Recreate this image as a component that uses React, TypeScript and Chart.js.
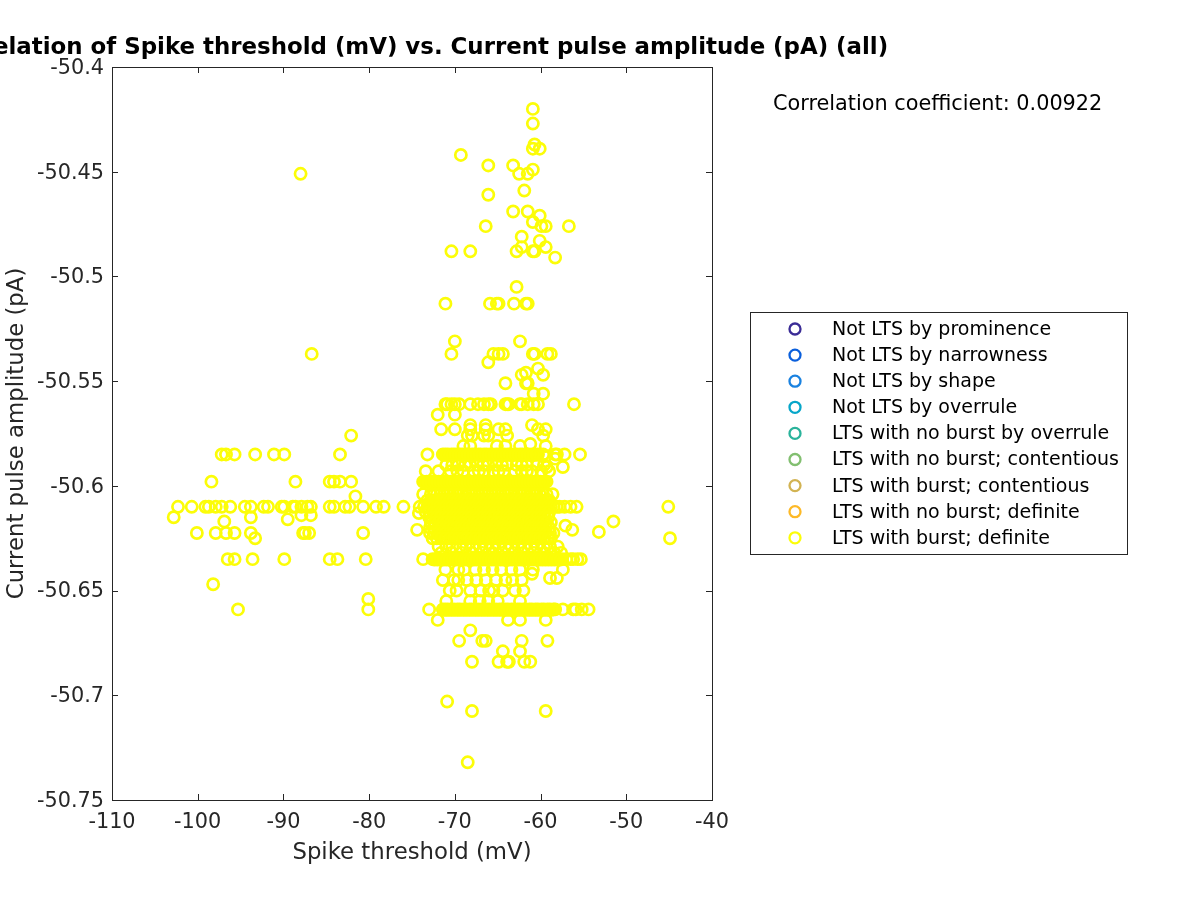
import React, { useEffect, useRef } from "react";
import { Chart, registerables } from "chart.js";

Chart.register(...registerables);

const chartTitle = "Correlation of Spike threshold (mV) vs. Current pulse amplitude (pA) (all)";
const xLabel = "Spike threshold (mV)";
const yLabel = "Current pulse amplitude (pA)";
const corrText = "Correlation coefficient: 0.00922";
const xMin = -110, xMax = -40, xStep = 10;
const yMin = -50.75, yMax = -50.4, yStep = 0.05;

const classNames = [
  "Not LTS by prominence", "Not LTS by narrowness", "Not LTS by shape", "Not LTS by overrule",
  "LTS with no burst by overrule", "LTS with no burst; contentious", "LTS with burst; contentious",
  "LTS with no burst; definite", "LTS with burst; definite",
];
const classColors = ["#3b2c96", "#0a5fdc", "#1a82e0", "#06a6c9", "#2ab39b", "#82bf70", "#d2b352", "#fdb927", "#fcfd08"];

// Scattered points: threshold and amplitude, paired by index
const upperX = [-60.9, -60.9, -60.7, -60.9, -60.1, -69.3, -66.1, -63.2, -60.9, -62.5, -61.5, -61.9, -66.1, -63.2, -61.5, -60.1, -60.9, -59.9, -59.4, -56.7, -66.4, -62.2, -60.1, -59.4, -62.2, -62.8, -60.9, -60.7, -70.4, -68.2, -58.3, -62.8, -88.0, -86.7];
const upperY = [-50.42, -50.427, -50.437, -50.439, -50.439, -50.442, -50.447, -50.447, -50.449, -50.451, -50.451, -50.459, -50.461, -50.469, -50.469, -50.471, -50.474, -50.476, -50.476, -50.476, -50.476, -50.481, -50.483, -50.486, -50.486, -50.488, -50.488, -50.488, -50.488, -50.488, -50.491, -50.505, -50.451, -50.537];
const midX = [-71.1, -65.9, -65.1, -64.9, -63.1, -61.7, -61.5, -70.0, -62.4, -70.4, -65.5, -64.9, -64.4, -60.9, -60.7, -59.2, -58.8, -66.1, -62.2, -61.7, -60.3, -59.7, -64.1, -61.7, -61.5, -60.8, -59.7];
const midY = [-50.513, -50.513, -50.513, -50.513, -50.513, -50.513, -50.513, -50.531, -50.531, -50.537, -50.537, -50.537, -50.537, -50.537, -50.537, -50.537, -50.537, -50.541, -50.547, -50.546, -50.544, -50.547, -50.551, -50.551, -50.551, -50.556, -50.556];
const lowerX = [-72.0, -63.8, -62.4, -59.4, -68.2, -69.5, -66.8, -66.4, -62.2, -59.2, -64.4, -62.4, -68.0, -64.9, -63.9, -63.7, -61.9, -61.2, -70.9, -68.0, -59.4, -68.5, -61.0, -58.9, -58.1, -57.4];
const lowerY = [-50.664, -50.664, -50.664, -50.664, -50.669, -50.674, -50.674, -50.674, -50.674, -50.674, -50.679, -50.679, -50.684, -50.684, -50.684, -50.684, -50.684, -50.684, -50.703, -50.7075, -50.7075, -50.732, -50.642, -50.644, -50.644, -50.64];
const sideX = [-82.1, -81.6, -102.8, -93.8, -87.9, -86.8, -89.5, -96.9, -93.3, -98.2, -80.1, -80.1, -95.3, -51.5, -53.2, -44.9, -74.2, -74.4, -73.4, -73.7, -57.4, -59.3, -58.3, -57.1, -56.3, -61.2];
const sideY = [-50.576, -50.605, -50.615, -50.615, -50.614, -50.614, -50.616, -50.617, -50.625, -50.647, -50.654, -50.659, -50.659, -50.617, -50.622, -50.625, -50.613, -50.621, -50.593, -50.604, -50.591, -50.591, -50.587, -50.619, -50.621, -50.58];

// Rows of repeated amplitude: amplitude, then thresholds on that row
const rowAmps = [-50.561, -50.566, -50.571, -50.573, -50.576, -50.581, -50.585, -50.5852, -50.59, -50.593, -50.598, -50.5982, -50.604, -50.607, -50.61, -50.6125, -50.615, -50.6175, -50.62, -50.6225, -50.625, -50.629, -50.632, -50.635, -50.6352, -50.64, -50.645, -50.65, -50.655, -50.659, -50.6592];
const row561 = [-71.1, -70.9, -70.4, -70.0, -69.5, -68.2, -67.3, -66.6, -66.1, -65.8, -64.1, -63.9, -63.7, -62.4, -62.2, -61.5, -60.8, -60.3, -56.1];
const row566 = [-72.0, -70.0];
const row571 = [-68.2, -66.4, -61.0];
const row573 = [-71.6, -70.0, -68.2, -66.4, -64.9, -64.1, -60.3, -59.4];
const row576 = [-68.5, -68.0, -66.6, -66.1, -63.9, -59.7];
const row581 = [-69.0, -68.2, -65.1, -64.1, -62.4, -59.4];
const row585 = [-97.2, -96.7, -95.7, -93.3, -91.1, -89.9, -83.4, -73.2, -71.4, -71.1, -70.8, -70.4, -70.1, -69.8, -69.4, -69.1, -68.7, -68.4, -68.0, -67.7, -67.3, -67.0, -66.6, -66.3, -65.9, -65.6, -65.2, -64.9, -64.5, -64.2, -63.8, -63.5, -63.1, -62.8, -62.4, -62.1, -61.7, -61.4, -61.0, -60.7, -60.3, -59.7, -58.3, -58.1, -57.2, -55.4];
const row585b = [-71.25, -70.95, -70.6, -70.25, -69.95, -69.6, -69.25, -68.9, -68.55, -68.2, -67.85, -67.5, -67.15, -66.8, -66.45, -66.1, -65.75, -65.4, -65.05, -64.7, -64.35, -64.0, -63.65, -63.3, -62.95, -62.6, -62.25, -61.9, -61.55, -61.2, -60.85, -60.5];
const row590 = [-71.0, -70.3, -69.6, -68.8, -68.2, -67.4, -66.7, -66.1, -65.2, -64.5, -63.9, -62.8, -62.2, -61.6, -60.4, -59.6];
const row593 = [-71.9, -70.5, -69.7, -69.0, -67.8, -67.2, -66.6, -65.5, -64.9, -64.3, -63.0, -62.2, -61.6, -61.0, -59.9, -59.0];
const row598 = [-98.4, -88.6, -84.6, -84.1, -83.4, -82.1, -73.7, -73.3, -72.9, -72.6, -72.2, -71.9, -71.5, -71.2, -70.8, -70.5, -70.1, -69.8, -69.4, -69.1, -68.7, -68.4, -68.0, -67.7, -67.3, -67.0, -66.6, -66.3, -65.9, -65.6, -65.2, -64.9, -64.5, -64.2, -63.8, -63.5, -63.1, -62.8, -62.4, -62.1, -61.7, -61.4, -61.0, -60.7, -60.3, -60.0, -59.6, -59.3];
const row598b = [-73.5, -73.1, -72.75, -72.4, -72.05, -71.7, -71.35, -71.0, -70.65, -70.3, -69.95, -69.6, -69.25, -68.9, -68.55, -68.2, -67.85, -67.5, -67.15, -66.8, -66.45, -66.1, -65.75, -65.4, -65.05, -64.7, -64.35, -64.0, -63.65, -63.3, -62.95, -62.6, -62.25, -61.9, -61.55, -61.2, -60.85, -60.5, -60.15, -59.8, -59.45];
const row604 = [-72.8, -72.4, -72.1, -71.7, -71.3, -70.9, -70.6, -70.2, -69.8, -69.5, -69.1, -68.7, -68.3, -68.0, -67.6, -67.2, -66.8, -66.5, -66.1, -65.7, -65.3, -65.0, -64.6, -64.2, -63.8, -63.5, -63.1, -62.7, -62.3, -62.0, -61.6, -61.2, -60.8, -60.5, -60.1, -59.7, -59.3, -58.6];
const row607 = [-73.2, -72.8, -72.3, -71.9, -71.5, -71.0, -70.6, -70.2, -69.7, -69.3, -68.9, -68.4, -68.0, -67.6, -67.1, -66.7, -66.3, -65.8, -65.4, -65.0, -64.5, -64.1, -63.7, -63.2, -62.8, -62.4, -61.9, -61.5, -61.1, -60.6, -60.2, -59.8, -59.3, -59.0];
const row610 = [-102.3, -100.7, -99.1, -98.7, -97.9, -97.2, -96.2, -94.5, -93.8, -92.3, -91.8, -90.2, -89.9, -88.9, -88.6, -87.9, -87.2, -86.8, -84.6, -84.1, -82.8, -82.3, -80.7, -79.2, -78.3, -76.0, -74.1, -73.6, -73.2, -72.8, -72.5, -72.1, -71.8, -71.4, -71.1, -70.7, -70.4, -70.0, -69.7, -69.3, -69.0, -68.6, -68.3, -67.9, -67.6, -67.2, -66.9, -66.5, -66.2, -65.8, -65.5, -65.1, -64.8, -64.4, -64.1, -63.7, -63.4, -63.0, -62.7, -62.3, -62.0, -61.6, -61.3, -60.9, -60.6, -60.2, -59.9, -59.5, -59.2, -58.8, -58.5, -58.1, -57.8, -57.2, -56.5, -55.8, -45.1];
const row6125 = [-73.4, -73.0, -72.5, -72.1, -71.6, -71.2, -70.7, -70.3, -69.8, -69.4, -68.9, -68.5, -68.0, -67.6, -67.1, -66.7, -66.2, -65.8, -65.3, -64.9, -64.4, -64.0, -63.5, -63.1, -62.6, -62.2, -61.7, -61.3, -60.8, -60.4, -59.9, -59.5, -59.0];
const row615 = [-73.0, -72.6, -72.1, -71.7, -71.2, -70.8, -70.3, -69.9, -69.4, -69.0, -68.5, -68.1, -67.6, -67.2, -66.7, -66.3, -65.8, -65.4, -64.9, -64.5, -64.0, -63.6, -63.1, -62.7, -62.2, -61.8, -61.3, -60.9, -60.4, -60.0, -59.5, -59.1];
const row6175 = [-72.8, -72.3, -71.9, -71.4, -71.0, -70.5, -70.1, -69.6, -69.2, -68.7, -68.3, -67.8, -67.4, -66.9, -66.5, -66.0, -65.6, -65.1, -64.7, -64.2, -63.8, -63.3, -62.9, -62.4, -62.0, -61.5, -61.1, -60.6, -60.2, -59.7, -59.3, -58.8];
const row620 = [-72.9, -72.5, -72.0, -71.6, -71.1, -70.7, -70.2, -69.8, -69.3, -68.9, -68.4, -68.0, -67.5, -67.1, -66.6, -66.2, -65.7, -65.3, -64.8, -64.4, -63.9, -63.5, -63.0, -62.6, -62.1, -61.7, -61.2, -60.8, -60.3, -59.9, -59.4, -59.0];
const row622 = [-100.1, -97.9, -96.7, -95.7, -93.8, -87.7, -87.5, -87.0, -80.7, -72.9, -72.4, -72.0, -71.5, -71.1, -70.6, -70.2, -69.7, -69.3, -68.8, -68.4, -67.9, -67.5, -67.0, -66.6, -66.1, -65.7, -65.2, -64.8, -64.3, -63.9, -63.4, -63.0, -62.5, -62.1, -61.6, -61.2, -60.7, -60.3, -59.8, -59.4, -58.9, -58.5];
const row625 = [-72.6, -72.1, -71.6, -71.1, -70.6, -70.1, -69.6, -69.1, -68.6, -68.1, -67.6, -67.1, -66.6, -66.1, -65.6, -65.1, -64.6, -64.1, -63.6, -63.1, -62.6, -62.1, -61.6, -61.1, -60.6, -60.1, -59.6, -59.1, -58.8];
const row629 = [-71.9, -71.0, -70.3, -69.4, -68.7, -67.9, -67.1, -66.4, -65.6, -64.9, -64.1, -63.4, -62.6, -61.9, -61.1, -60.4, -59.6, -58.9, -58.0];
const row632 = [-71.6, -70.4, -69.2, -68.0, -66.8, -65.6, -64.4, -63.2, -62.0, -60.8, -59.6, -58.4, -57.6];
const row635 = [-96.5, -95.7, -93.6, -89.9, -84.6, -83.7, -80.4, -73.7, -72.6, -72.2, -71.9, -71.5, -71.2, -70.8, -70.5, -70.1, -69.8, -69.4, -69.1, -68.7, -68.4, -68.0, -67.7, -67.3, -67.0, -66.6, -66.3, -65.9, -65.6, -65.2, -64.9, -64.5, -64.2, -63.8, -63.5, -63.1, -62.8, -62.4, -62.1, -61.7, -61.4, -61.0, -60.7, -60.3, -60.0, -59.6, -59.3, -58.9, -58.6, -58.2, -57.9, -57.5, -57.0, -56.5, -56.2, -55.7, -55.3];
const row635b = [-72.4, -72.05, -71.7, -71.35, -71.0, -70.65, -70.3, -69.95, -69.6, -69.25, -68.9, -68.55, -68.2, -67.85, -67.5, -67.15, -66.8, -66.45, -66.1, -65.75, -65.4, -65.05, -64.7, -64.35, -64.0, -63.65, -63.3, -62.95, -62.6, -62.25, -61.9, -61.55, -61.2, -60.85, -60.5, -60.15, -59.8, -59.45, -59.1, -58.75, -58.4, -58.05, -57.7];
const row640 = [-71.1, -69.6, -68.9, -67.6, -66.6, -65.6, -64.6, -63.4, -62.4, -60.9];
const row645 = [-71.4, -70.1, -69.6, -68.6, -67.5, -66.4, -65.2, -64.1, -63.3, -62.2];
const row650 = [-70.6, -69.8, -68.2, -67.0, -66.0, -65.5, -64.4, -63.0, -62.0];
const row655 = [-71.0, -68.2, -67.1, -66.1, -65.0, -62.4];
const row659 = [-73.0, -71.4, -71.1, -70.8, -70.4, -70.1, -69.7, -69.4, -69.0, -68.7, -68.3, -68.0, -67.6, -67.3, -66.9, -66.6, -66.2, -65.9, -65.5, -65.2, -64.8, -64.5, -64.1, -63.8, -63.4, -63.1, -62.7, -62.4, -62.0, -61.7, -61.3, -61.0, -60.6, -60.3, -59.9, -59.6, -59.2, -58.9, -58.5, -58.3, -57.4, -56.2, -55.9, -55.2, -54.4];
const row659b = [-71.25, -70.95, -70.6, -70.25, -69.9, -69.55, -69.2, -68.85, -68.5, -68.15, -67.8, -67.45, -67.1, -66.75, -66.4, -66.05, -65.7, -65.35, -65.0, -64.65, -64.3, -63.95, -63.6, -63.25, -62.9, -62.55, -62.2, -61.85, -61.5, -61.15, -60.8, -60.45, -60.1, -59.75, -59.4, -59.05, -58.7];
const rowLists = [row561, row566, row571, row573, row576, row581, row585, row585b, row590, row593, row598, row598b, row604, row607, row610, row6125, row615, row6175, row620, row622, row625, row629, row632, row635, row635b, row640, row645, row650, row655, row659, row659b];

const inkColor = "#262626";
const fontFamily = '"DejaVu Sans"';

function pairs(xs: number[], ys: number[]) {
  return xs.map((x, i) => ({ x, y: ys[i] }));
}

const finalPoints = [
  ...pairs(upperX, upperY),
  ...pairs(midX, midY),
  ...pairs(lowerX, lowerY),
  ...pairs(sideX, sideY),
  ...rowLists.flatMap((list, i) => list.map((x) => ({ x, y: rowAmps[i] }))),
];

const framePlugin = {
  id: "matlabFrame",
  afterDraw(chart: any) {
    const { ctx, chartArea: a, scales } = chart;
    ctx.save();
    ctx.strokeStyle = inkColor;
    ctx.lineWidth = 1;
    ctx.strokeRect(a.left + 0.5, a.top + 0.5, a.right - a.left, a.bottom - a.top);
    const tick = 6;
    scales.x.ticks.forEach((_: any, i: number) => {
      const p = Math.round(scales.x.getPixelForTick(i)) + 0.5;
      ctx.beginPath();
      ctx.moveTo(p, a.bottom); ctx.lineTo(p, a.bottom - tick);
      ctx.moveTo(p, a.top); ctx.lineTo(p, a.top + tick);
      ctx.stroke();
    });
    scales.y.ticks.forEach((_: any, i: number) => {
      const p = Math.round(scales.y.getPixelForTick(i)) + 0.5;
      ctx.beginPath();
      ctx.moveTo(a.left, p); ctx.lineTo(a.left + tick, p);
      ctx.moveTo(a.right, p); ctx.lineTo(a.right - tick, p);
      ctx.stroke();
    });
    // title
    ctx.fillStyle = "#000";
    ctx.textAlign = "center";
    ctx.textBaseline = "middle";
    ctx.font = `bold 22.9px ${fontFamily}`;
    ctx.fillText(chartTitle, 413, 48.5);
    // correlation text
    ctx.textAlign = "left";
    ctx.font = `20.8px ${fontFamily}`;
    ctx.fillText(corrText, 773, 105);
    // legend
    ctx.fillStyle = "#fff";
    ctx.fillRect(750, 312, 377, 242);
    ctx.strokeStyle = inkColor;
    ctx.strokeRect(750.5, 312.5, 377, 242);
    ctx.font = `19px ${fontFamily}`;
    chart.data.datasets.forEach((ds: any, i: number) => {
      const y = 329 + i * 26.1;
      ctx.beginPath();
      ctx.arc(795, y, 5.5, 0, Math.PI * 2);
      ctx.strokeStyle = ds.borderColor;
      ctx.lineWidth = 2.3;
      ctx.stroke();
      ctx.fillStyle = "#000";
      ctx.fillText(ds.label, 832, y + 1);
    });
    ctx.restore();
  },
};

export default function App() {
  const ref = useRef<HTMLCanvasElement>(null);
  useEffect(() => {
    const chart = new Chart(ref.current as HTMLCanvasElement, {
      type: "scatter",
      data: {
        datasets: classNames.map((label, i) => ({
          label,
          data: i === classNames.length - 1 ? finalPoints : [],
          borderColor: classColors[i],
          backgroundColor: "transparent",
          borderWidth: 2.7,
          pointRadius: 5.6,
          pointHoverRadius: 5.6,
        })),
      },
      options: {
        responsive: false,
        animation: false,
        layout: { padding: { top: 67, right: 488, left: 0, bottom: 0 } },
        plugins: { legend: { display: false }, title: { display: false }, tooltip: { enabled: false } },
        scales: {
          x: {
            type: "linear", min: xMin, max: xMax,
            grid: { display: false }, border: { display: false },
            afterFit: (s: any) => { s.height = 100; },
            ticks: { stepSize: xStep, color: inkColor, font: { family: fontFamily, size: 20.8 }, padding: 2, maxRotation: 0 },
            title: { display: true, text: xLabel, color: inkColor, font: { family: fontFamily, size: 22.8 }, padding: { top: 0, bottom: 33 } },
          },
          y: {
            type: "linear", min: yMin, max: yMax,
            grid: { display: false }, border: { display: false },
            afterFit: (s: any) => { s.width = 112; },
            ticks: {
              stepSize: yStep, color: inkColor, font: { family: fontFamily, size: 20.8 }, padding: 0, labelOffset: 1.5,
              callback: (v: any) => String(Number(Number(v).toFixed(2))),
            },
            title: { display: true, text: yLabel, color: inkColor, font: { family: fontFamily, size: 22.8 }, padding: { top: 3, bottom: 4 } },
          },
        },
      },
      plugins: [framePlugin],
    } as any);
    return () => chart.destroy();
  }, []);
  return <canvas ref={ref} width={1200} height={900} style={{ position: "fixed", left: 0, top: 0, display: "block", background: "#fff" }} />;
}
